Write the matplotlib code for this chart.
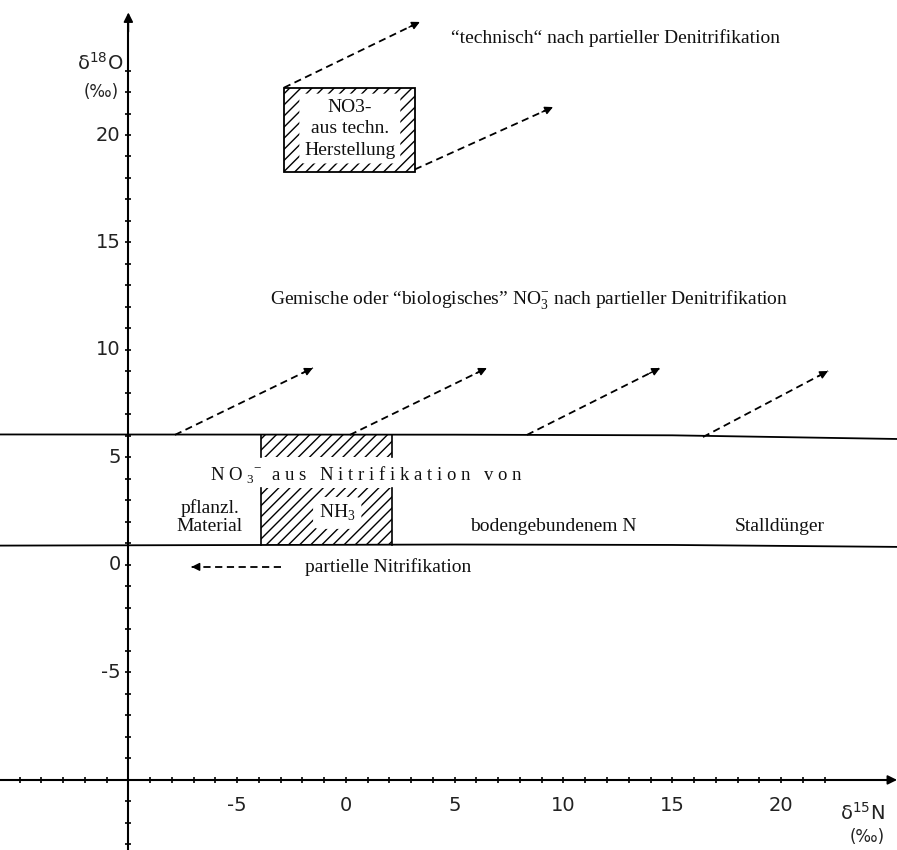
import numpy as np
import matplotlib
matplotlib.use("Agg")
import matplotlib.pyplot as plt
from matplotlib.patches import Rectangle

plt.rcParams['hatch.linewidth'] = 1.0
plt.rcParams['mathtext.fontset'] = 'custom'
plt.rcParams['mathtext.rm'] = 'Liberation Serif'

# ---- data ----
x_ticklabels = [-5, 0, 5, 10, 15, 20]
y_ticklabels = [-5, 0, 5, 10, 15, 20]
x_minor = list(range(-15, 23))
y_minor = list(range(-13, 24))
axis_origin = (-10, -10)

upper_line_x = [-15.9, 5, 15, 25.3]
upper_line_y = [6.07, 6.06, 6.03, 5.86]
lower_line_x = [-15.9, 5, 15, 25.3]
lower_line_y = [0.90, 0.95, 0.93, 0.84]

# NH3 box (x range, y ranges of hatched parts)
nh3_x = [-3.9, 2.1]
nh3_top_y = [5.0, 6.05]
nh3_bot_y = [0.92, 3.6]
# technical nitrate box
tech_x = [-2.85, 3.17]
tech_y = [18.3, 22.2]

# denitrification arrows: (x0, y0, x1, y1)
arrows = [
    (-7.86, 6.05, -1.52, 9.16),
    (0.18, 6.05, 6.48, 9.16),
    (8.32, 6.05, 14.44, 9.16),
    (16.41, 5.95, 22.16, 9.02),
    (-2.85, 22.2, 3.40, 25.26),
    (3.17, 18.4, 9.52, 21.3),
]
nitr_arrow = (-3.0, -0.09, -7.1, -0.09)

fig = plt.figure(figsize=(8.97, 8.5), dpi=100)
ax = fig.add_axes([0, 0, 1, 1])
ax.set_xlim(-15.9, 25.33)
ax.set_ylim(-13.26, 26.28)
ax.axis('off')

K = 'black'
# axes
ax.plot([-15.9, 25.2], [axis_origin[1]] * 2, color=K, lw=1.5, zorder=3)
ax.plot([axis_origin[0]] * 2, [-13.3, 25.5], color=K, lw=1.5, zorder=3)
ax.annotate('', xy=(axis_origin[0], 25.7), xytext=(axis_origin[0], 24.8),
            arrowprops=dict(arrowstyle='-|>', color=K, lw=1.2, mutation_scale=14,
                            shrinkA=0, shrinkB=0))
ax.annotate('', xy=(25.33, axis_origin[1]), xytext=(24.4, axis_origin[1]),
            arrowprops=dict(arrowstyle='-|>', color=K, lw=1.2, mutation_scale=14,
                            shrinkA=0, shrinkB=0))
# minor ticks
ax.plot(x_minor, [axis_origin[1]] * len(x_minor), ls='none', marker='|', ms=5, mew=1.2, color=K)
ax.plot([axis_origin[0]] * len(y_minor), y_minor, ls='none', marker='_', ms=5, mew=1.2, color=K)

numfont = dict(family='DejaVu Sans', fontsize=14, color='#222222')
for v in x_ticklabels:
    ax.text(v, -11.2, str(v), ha='center', va='center', **numfont)
for v in y_ticklabels:
    ax.text(-10.35, v, str(v), ha='right', va='center', **numfont)

ax.text(-11.3, 23.35, 'δ$^{\\mathsf{18}}$O', ha='center', va='center', **numfont)
ax.text(-11.25, 22.0, '(‰)', ha='center', va='center', family='DejaVu Sans', fontsize=12, color='#222222')
ax.text(23.75, -11.55, 'δ$^{\\mathsf{15}}$N', ha='center', va='center', **numfont)
ax.text(23.95, -12.65, '(‰)', ha='center', va='center', family='DejaVu Sans', fontsize=12, color='#222222')

# band lines
ax.plot(upper_line_x, upper_line_y, color=K, lw=1.3)
ax.plot(lower_line_x, lower_line_y, color=K, lw=1.3)

# NH3 box
for yr in (nh3_top_y, nh3_bot_y):
    ax.add_patch(Rectangle((nh3_x[0], yr[0]), nh3_x[1] - nh3_x[0], yr[1] - yr[0],
                           facecolor='white', edgecolor=K, lw=0, hatch='///', zorder=1))
    for xx in nh3_x:
        ax.plot([xx, xx], yr, color=K, lw=1.2, zorder=2)

# tech box
ax.add_patch(Rectangle((tech_x[0], tech_y[0]), tech_x[1] - tech_x[0], tech_y[1] - tech_y[0],
                       facecolor='white', edgecolor=K, lw=1.3, hatch='///', zorder=1))

# dashed arrows
for x0, y0, x1, y1 in arrows + [nitr_arrow]:
    ax.plot([x0, x1], [y0, y1], color=K, lw=1.3, dashes=(4, 2.5), zorder=2)
    dx, dy = x1 - x0, y1 - y0
    ax.annotate('', xy=(x1, y1), xytext=(x1 - dx * 0.08, y1 - dy * 0.08),
                arrowprops=dict(arrowstyle='-|>', color=K, lw=1.0, mutation_scale=12,
                                shrinkA=0, shrinkB=0))

serif = dict(family='Liberation Serif', fontsize=14, color='#111111')
ax.text(12.37, 24.5, '“technisch“ nach partieller Denitrifikation', ha='center', va='center', **serif)
ax.text(8.41, 12.33, r'Gemische oder “biologisches” NO$_3^{-}$ nach partieller Denitrifikation',
        ha='center', va='center', **serif)
ax.text(0.18, 20.3, 'NO3-\naus techn.\nHerstellung', ha='center', va='center', linespacing=1.35,
        bbox=dict(boxstyle='round,pad=0.25', fc='white', ec='none'), zorder=4, **serif)
ax.text(0.97, 4.19, r'N O $_3$$^{-}$  a u s   N i t r i f i k a t i o n   v o n', ha='center', va='center',
        family='Liberation Serif', fontsize=13.5, color='#111111', zorder=4)
ax.text(-6.25, 2.23, 'pflanzl.\nMaterial', ha='center', va='center', linespacing=1.1, **serif)
ax.text(-0.4, 2.42, r'NH$_3$', ha='center', va='center',
        bbox=dict(boxstyle='round,pad=0.3', fc='white', ec='none'), zorder=4, **serif)
ax.text(9.52, 1.81, 'bodengebundenem N', ha='center', va='center', **serif)
ax.text(19.95, 1.81, 'Stalldünger', ha='center', va='center', **serif)
ax.text(-1.89, -0.09, 'partielle Nitrifikation', ha='left', va='center', **serif)

fig.savefig('out.png', dpi=100)
